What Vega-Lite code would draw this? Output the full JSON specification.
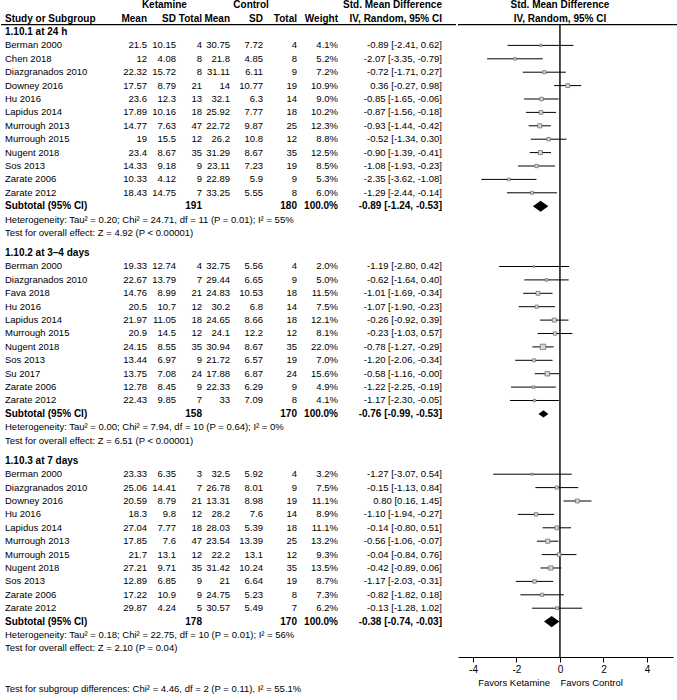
{
  "$schema": "https://vega.github.io/schema/vega-lite/v6.json",
  "padding": 0,
  "spacing": 0,
  "config": {
    "view": {"stroke": null},
    "font": "Liberation Sans",
    "text": {"font": "Liberation Sans", "fontSize": 9.5, "color": "black"},
    "axis": {"labelFont": "Liberation Sans", "titleFont": "Liberation Sans", "labelFontSize": 10, "titleFontSize": 9.5, "titleFontWeight": "normal", "labelColor": "black", "titleColor": "black", "domainColor": "black", "tickColor": "black", "grid": false}
  },
  "datasets": {
    "headers": [
      {"row": -2, "kgroup": "Ketamine", "cgroup": "Control", "ci": "Std. Mean Difference"},
      {"row": -1, "name": "Study or Subgroup", "kmean": "Mean", "ksd": "SD", "kn": "Total", "cmean": "Mean", "csd": "SD", "cn": "Total", "weight": "Weight", "ci": "IV, Random, 95% CI"}
    ],
    "plotheaders": [
      {"row": -2, "label": "Std. Mean Difference"},
      {"row": -1, "label": "IV, Random, 95% CI"}
    ],
    "table": [
      {"row": 0, "kind": "heading", "name": "1.10.1 at 24 h"},
      {"row": 1, "kind": "study", "name": "Berman 2000", "kmean": 21.5, "ksd": 10.15, "kn": 4, "cmean": 30.75, "csd": 7.72, "cn": 4, "weight": 0.041, "ci": "-0.89 [-2.41, 0.62]", "smd": -0.89, "lo": -2.41, "hi": 0.62},
      {"row": 2, "kind": "study", "name": "Chen 2018", "kmean": 12, "ksd": 4.08, "kn": 8, "cmean": 21.8, "csd": 4.85, "cn": 8, "weight": 0.052, "ci": "-2.07 [-3.35, -0.79]", "smd": -2.07, "lo": -3.35, "hi": -0.79},
      {"row": 3, "kind": "study", "name": "Diazgranados 2010", "kmean": 22.32, "ksd": 15.72, "kn": 8, "cmean": 31.11, "csd": 6.11, "cn": 9, "weight": 0.072, "ci": "-0.72 [-1.71, 0.27]", "smd": -0.72, "lo": -1.71, "hi": 0.27},
      {"row": 4, "kind": "study", "name": "Downey 2016", "kmean": 17.57, "ksd": 8.79, "kn": 21, "cmean": 14, "csd": 10.77, "cn": 19, "weight": 0.109, "ci": "0.36 [-0.27, 0.98]", "smd": 0.36, "lo": -0.27, "hi": 0.98},
      {"row": 5, "kind": "study", "name": "Hu 2016", "kmean": 23.6, "ksd": 12.3, "kn": 13, "cmean": 32.1, "csd": 6.3, "cn": 14, "weight": 0.09, "ci": "-0.85 [-1.65, -0.06]", "smd": -0.85, "lo": -1.65, "hi": -0.06},
      {"row": 6, "kind": "study", "name": "Lapidus 2014", "kmean": 17.89, "ksd": 10.16, "kn": 18, "cmean": 25.92, "csd": 7.77, "cn": 18, "weight": 0.102, "ci": "-0.87 [-1.56, -0.18]", "smd": -0.87, "lo": -1.56, "hi": -0.18},
      {"row": 7, "kind": "study", "name": "Murrough 2013", "kmean": 14.77, "ksd": 7.63, "kn": 47, "cmean": 22.72, "csd": 9.87, "cn": 25, "weight": 0.123, "ci": "-0.93 [-1.44, -0.42]", "smd": -0.93, "lo": -1.44, "hi": -0.42},
      {"row": 8, "kind": "study", "name": "Murrough 2015", "kmean": 19, "ksd": 15.5, "kn": 12, "cmean": 26.2, "csd": 10.8, "cn": 12, "weight": 0.088, "ci": "-0.52 [-1.34, 0.30]", "smd": -0.52, "lo": -1.34, "hi": 0.30},
      {"row": 9, "kind": "study", "name": "Nugent 2018", "kmean": 23.4, "ksd": 8.67, "kn": 35, "cmean": 31.29, "csd": 8.67, "cn": 35, "weight": 0.125, "ci": "-0.90 [-1.39, -0.41]", "smd": -0.90, "lo": -1.39, "hi": -0.41},
      {"row": 10, "kind": "study", "name": "Sos 2013", "kmean": 14.33, "ksd": 9.18, "kn": 9, "cmean": 23.11, "csd": 7.23, "cn": 19, "weight": 0.085, "ci": "-1.08 [-1.93, -0.23]", "smd": -1.08, "lo": -1.93, "hi": -0.23},
      {"row": 11, "kind": "study", "name": "Zarate 2006", "kmean": 10.33, "ksd": 4.12, "kn": 9, "cmean": 22.89, "csd": 5.9, "cn": 9, "weight": 0.053, "ci": "-2.35 [-3.62, -1.08]", "smd": -2.35, "lo": -3.62, "hi": -1.08},
      {"row": 12, "kind": "study", "name": "Zarate 2012", "kmean": 18.43, "ksd": 14.75, "kn": 7, "cmean": 33.25, "csd": 5.55, "cn": 8, "weight": 0.06, "ci": "-1.29 [-2.44, -0.14]", "smd": -1.29, "lo": -2.44, "hi": -0.14},
      {"row": 13, "kind": "subtotal", "name": "Subtotal (95% CI)", "kn": 191, "cn": 180, "weight": 1, "ci": "-0.89 [-1.24, -0.53]", "smd": -0.89, "lo": -1.24, "hi": -0.53},
      {"row": 14, "kind": "note", "name": "Heterogeneity: Tau² = 0.20; Chi² = 24.71, df = 11 (P = 0.01); I² = 55%"},
      {"row": 15, "kind": "note", "name": "Test for overall effect: Z = 4.92 (P < 0.00001)"},
      {"row": 16.5, "kind": "heading", "name": "1.10.2 at 3–4 days"},
      {"row": 17.5, "kind": "study", "name": "Berman 2000", "kmean": 19.33, "ksd": 12.74, "kn": 4, "cmean": 32.75, "csd": 5.56, "cn": 4, "weight": 0.02, "ci": "-1.19 [-2.80, 0.42]", "smd": -1.19, "lo": -2.80, "hi": 0.42},
      {"row": 18.5, "kind": "study", "name": "Diazgranados 2010", "kmean": 22.67, "ksd": 13.79, "kn": 7, "cmean": 29.44, "csd": 6.65, "cn": 9, "weight": 0.05, "ci": "-0.62 [-1.64, 0.40]", "smd": -0.62, "lo": -1.64, "hi": 0.40},
      {"row": 19.5, "kind": "study", "name": "Fava 2018", "kmean": 14.76, "ksd": 8.99, "kn": 21, "cmean": 24.83, "csd": 10.53, "cn": 18, "weight": 0.115, "ci": "-1.01 [-1.69, -0.34]", "smd": -1.01, "lo": -1.69, "hi": -0.34},
      {"row": 20.5, "kind": "study", "name": "Hu 2016", "kmean": 20.5, "ksd": 10.7, "kn": 12, "cmean": 30.2, "csd": 6.8, "cn": 14, "weight": 0.075, "ci": "-1.07 [-1.90, -0.23]", "smd": -1.07, "lo": -1.90, "hi": -0.23},
      {"row": 21.5, "kind": "study", "name": "Lapidus 2014", "kmean": 21.97, "ksd": 11.05, "kn": 18, "cmean": 24.65, "csd": 8.66, "cn": 18, "weight": 0.121, "ci": "-0.26 [-0.92, 0.39]", "smd": -0.26, "lo": -0.92, "hi": 0.39},
      {"row": 22.5, "kind": "study", "name": "Murrough 2015", "kmean": 20.9, "ksd": 14.5, "kn": 12, "cmean": 24.1, "csd": 12.2, "cn": 12, "weight": 0.081, "ci": "-0.23 [-1.03, 0.57]", "smd": -0.23, "lo": -1.03, "hi": 0.57},
      {"row": 23.5, "kind": "study", "name": "Nugent 2018", "kmean": 24.15, "ksd": 8.55, "kn": 35, "cmean": 30.94, "csd": 8.67, "cn": 35, "weight": 0.22, "ci": "-0.78 [-1.27, -0.29]", "smd": -0.78, "lo": -1.27, "hi": -0.29},
      {"row": 24.5, "kind": "study", "name": "Sos 2013", "kmean": 13.44, "ksd": 6.97, "kn": 9, "cmean": 21.72, "csd": 6.57, "cn": 19, "weight": 0.07, "ci": "-1.20 [-2.06, -0.34]", "smd": -1.20, "lo": -2.06, "hi": -0.34},
      {"row": 25.5, "kind": "study", "name": "Su 2017", "kmean": 13.75, "ksd": 7.08, "kn": 24, "cmean": 17.88, "csd": 6.87, "cn": 24, "weight": 0.156, "ci": "-0.58 [-1.16, -0.00]", "smd": -0.58, "lo": -1.16, "hi": -0.00},
      {"row": 26.5, "kind": "study", "name": "Zarate 2006", "kmean": 12.78, "ksd": 8.45, "kn": 9, "cmean": 22.33, "csd": 6.29, "cn": 9, "weight": 0.049, "ci": "-1.22 [-2.25, -0.19]", "smd": -1.22, "lo": -2.25, "hi": -0.19},
      {"row": 27.5, "kind": "study", "name": "Zarate 2012", "kmean": 22.43, "ksd": 9.85, "kn": 7, "cmean": 33, "csd": 7.09, "cn": 8, "weight": 0.041, "ci": "-1.17 [-2.30, -0.05]", "smd": -1.17, "lo": -2.30, "hi": -0.05},
      {"row": 28.5, "kind": "subtotal", "name": "Subtotal (95% CI)", "kn": 158, "cn": 170, "weight": 1, "ci": "-0.76 [-0.99, -0.53]", "smd": -0.76, "lo": -0.99, "hi": -0.53},
      {"row": 29.5, "kind": "note", "name": "Heterogeneity: Tau² = 0.00; Chi² = 7.94, df = 10 (P = 0.64); I² = 0%"},
      {"row": 30.5, "kind": "note", "name": "Test for overall effect: Z = 6.51 (P < 0.00001)"},
      {"row": 32, "kind": "heading", "name": "1.10.3 at 7 days"},
      {"row": 33, "kind": "study", "name": "Berman 2000", "kmean": 23.33, "ksd": 6.35, "kn": 3, "cmean": 32.5, "csd": 5.92, "cn": 4, "weight": 0.032, "ci": "-1.27 [-3.07, 0.54]", "smd": -1.27, "lo": -3.07, "hi": 0.54},
      {"row": 34, "kind": "study", "name": "Diazgranados 2010", "kmean": 25.06, "ksd": 14.41, "kn": 7, "cmean": 26.78, "csd": 8.01, "cn": 9, "weight": 0.075, "ci": "-0.15 [-1.13, 0.84]", "smd": -0.15, "lo": -1.13, "hi": 0.84},
      {"row": 35, "kind": "study", "name": "Downey 2016", "kmean": 20.59, "ksd": 8.79, "kn": 21, "cmean": 13.31, "csd": 8.98, "cn": 19, "weight": 0.111, "ci": "0.80 [0.16, 1.45]", "smd": 0.80, "lo": 0.16, "hi": 1.45},
      {"row": 36, "kind": "study", "name": "Hu 2016", "kmean": 18.3, "ksd": 9.8, "kn": 12, "cmean": 28.2, "csd": 7.6, "cn": 14, "weight": 0.089, "ci": "-1.10 [-1.94, -0.27]", "smd": -1.10, "lo": -1.94, "hi": -0.27},
      {"row": 37, "kind": "study", "name": "Lapidus 2014", "kmean": 27.04, "ksd": 7.77, "kn": 18, "cmean": 28.03, "csd": 5.39, "cn": 18, "weight": 0.111, "ci": "-0.14 [-0.80, 0.51]", "smd": -0.14, "lo": -0.80, "hi": 0.51},
      {"row": 38, "kind": "study", "name": "Murrough 2013", "kmean": 17.85, "ksd": 7.6, "kn": 47, "cmean": 23.54, "csd": 13.39, "cn": 25, "weight": 0.132, "ci": "-0.56 [-1.06, -0.07]", "smd": -0.56, "lo": -1.06, "hi": -0.07},
      {"row": 39, "kind": "study", "name": "Murrough 2015", "kmean": 21.7, "ksd": 13.1, "kn": 12, "cmean": 22.2, "csd": 13.1, "cn": 12, "weight": 0.093, "ci": "-0.04 [-0.84, 0.76]", "smd": -0.04, "lo": -0.84, "hi": 0.76},
      {"row": 40, "kind": "study", "name": "Nugent 2018", "kmean": 27.21, "ksd": 9.71, "kn": 35, "cmean": 31.42, "csd": 10.24, "cn": 35, "weight": 0.135, "ci": "-0.42 [-0.89, 0.06]", "smd": -0.42, "lo": -0.89, "hi": 0.06},
      {"row": 41, "kind": "study", "name": "Sos 2013", "kmean": 12.89, "ksd": 6.85, "kn": 9, "cmean": 21, "csd": 6.64, "cn": 19, "weight": 0.087, "ci": "-1.17 [-2.03, -0.31]", "smd": -1.17, "lo": -2.03, "hi": -0.31},
      {"row": 42, "kind": "study", "name": "Zarate 2006", "kmean": 17.22, "ksd": 10.9, "kn": 9, "cmean": 24.75, "csd": 5.23, "cn": 8, "weight": 0.073, "ci": "-0.82 [-1.82, 0.18]", "smd": -0.82, "lo": -1.82, "hi": 0.18},
      {"row": 43, "kind": "study", "name": "Zarate 2012", "kmean": 29.87, "ksd": 4.24, "kn": 5, "cmean": 30.57, "csd": 5.49, "cn": 7, "weight": 0.062, "ci": "-0.13 [-1.28, 1.02]", "smd": -0.13, "lo": -1.28, "hi": 1.02},
      {"row": 44, "kind": "subtotal", "name": "Subtotal (95% CI)", "kn": 178, "cn": 170, "weight": 1, "ci": "-0.38 [-0.74, -0.03]", "smd": -0.38, "lo": -0.74, "hi": -0.03},
      {"row": 45, "kind": "note", "name": "Heterogeneity: Tau² = 0.18; Chi² = 22.75, df = 10 (P = 0.01); I² = 56%"},
      {"row": 46, "kind": "note", "name": "Test for overall effect: Z = 2.10 (P = 0.04)"},
      {"row": 49, "kind": "note", "name": "Test for subgroup differences: Chi² = 4.46, df = 2 (P = 0.11), I² = 55.1%"}
    ]
  },
  "hconcat": [
    {
      "width": 455,
      "height": 700,
      "layer": [
        {"data": {"name": "table"}, "transform": [{"filter": "datum.kind === 'study' || datum.kind === 'note'"}],
         "mark": {"type": "text", "align": "left"},
         "encoding": {"x": {"datum": 0, "type": "quantitative", "scale": {"domain": [-1,0,1,2,3,4,5,6,7,8,9], "range": [0,4,146,175,201,229,262,296,337,441,455], "zero": false, "nice": false}, "axis": null},
                      "y": {"field": "row", "type": "quantitative", "scale": {"domain": [-2.388, 49.851], "reverse": true, "zero": false, "nice": false}, "axis": null},
                      "text": {"field": "name", "type": "nominal"}}},
        {"data": {"name": "table"}, "transform": [{"filter": "datum.kind === 'heading' || datum.kind === 'subtotal'"}],
         "mark": {"type": "text", "align": "left", "fontWeight": "bold", "fontSize": 10},
         "encoding": {"x": {"datum": 0, "type": "quantitative", "scale": {"domain": [-1,0,1,2,3,4,5,6,7,8,9], "range": [0,4,146,175,201,229,262,296,337,441,455], "zero": false, "nice": false}, "axis": null},
                      "y": {"field": "row", "type": "quantitative", "scale": {"domain": [-2.388, 49.851], "reverse": true, "zero": false, "nice": false}, "axis": null},
                      "text": {"field": "name", "type": "nominal"}}},
        {"data": {"name": "headers"}, "transform": [{"filter": "isValid(datum.name)"}],
         "mark": {"type": "text", "align": "left", "fontWeight": "bold", "fontSize": 10},
         "encoding": {"x": {"datum": 0, "type": "quantitative", "scale": {"domain": [-1,0,1,2,3,4,5,6,7,8,9], "range": [0,4,146,175,201,229,262,296,337,441,455], "zero": false, "nice": false}, "axis": null},
                      "y": {"field": "row", "type": "quantitative", "scale": {"domain": [-2.388, 49.851], "reverse": true, "zero": false, "nice": false}, "axis": null},
                      "text": {"field": "name", "type": "nominal"}}},
        {"data": {"name": "table"}, "transform": [{"filter": "datum.kind === 'study'"}],
         "mark": {"type": "text", "align": "right"},
         "encoding": {"x": {"datum": 1, "type": "quantitative", "scale": {"domain": [-1,0,1,2,3,4,5,6,7,8,9], "range": [0,4,146,175,201,229,262,296,337,441,455], "zero": false, "nice": false}, "axis": null},
                      "y": {"field": "row", "type": "quantitative", "scale": {"domain": [-2.388, 49.851], "reverse": true, "zero": false, "nice": false}, "axis": null},
                      "text": {"field": "kmean", "type": "nominal"}}},
        {"data": {"name": "headers"}, "transform": [{"filter": "isValid(datum.kmean)"}],
         "mark": {"type": "text", "align": "right", "fontWeight": "bold", "fontSize": 10},
         "encoding": {"x": {"datum": 1, "type": "quantitative", "scale": {"domain": [-1,0,1,2,3,4,5,6,7,8,9], "range": [0,4,146,175,201,229,262,296,337,441,455], "zero": false, "nice": false}, "axis": null},
                      "y": {"field": "row", "type": "quantitative", "scale": {"domain": [-2.388, 49.851], "reverse": true, "zero": false, "nice": false}, "axis": null},
                      "text": {"field": "kmean", "type": "nominal"}}},
        {"data": {"name": "headers"}, "transform": [{"filter": "isValid(datum.kgroup)"}],
         "mark": {"type": "text", "align": "center", "fontWeight": "bold", "fontSize": 10},
         "encoding": {"x": {"datum": 1.6, "type": "quantitative", "scale": {"domain": [-1,0,1,2,3,4,5,6,7,8,9], "range": [0,4,146,175,201,229,262,296,337,441,455], "zero": false, "nice": false}, "axis": null},
                      "y": {"field": "row", "type": "quantitative", "scale": {"domain": [-2.388, 49.851], "reverse": true, "zero": false, "nice": false}, "axis": null},
                      "text": {"field": "kgroup", "type": "nominal"}}},
        {"data": {"name": "table"}, "transform": [{"filter": "datum.kind === 'study'"}],
         "mark": {"type": "text", "align": "right"},
         "encoding": {"x": {"datum": 2, "type": "quantitative", "scale": {"domain": [-1,0,1,2,3,4,5,6,7,8,9], "range": [0,4,146,175,201,229,262,296,337,441,455], "zero": false, "nice": false}, "axis": null},
                      "y": {"field": "row", "type": "quantitative", "scale": {"domain": [-2.388, 49.851], "reverse": true, "zero": false, "nice": false}, "axis": null},
                      "text": {"field": "ksd", "type": "nominal"}}},
        {"data": {"name": "headers"}, "transform": [{"filter": "isValid(datum.ksd)"}],
         "mark": {"type": "text", "align": "right", "fontWeight": "bold", "fontSize": 10},
         "encoding": {"x": {"datum": 2, "type": "quantitative", "scale": {"domain": [-1,0,1,2,3,4,5,6,7,8,9], "range": [0,4,146,175,201,229,262,296,337,441,455], "zero": false, "nice": false}, "axis": null},
                      "y": {"field": "row", "type": "quantitative", "scale": {"domain": [-2.388, 49.851], "reverse": true, "zero": false, "nice": false}, "axis": null},
                      "text": {"field": "ksd", "type": "nominal"}}},
        {"data": {"name": "table"}, "transform": [{"filter": "datum.kind === 'study'"}],
         "mark": {"type": "text", "align": "right"},
         "encoding": {"x": {"datum": 3, "type": "quantitative", "scale": {"domain": [-1,0,1,2,3,4,5,6,7,8,9], "range": [0,4,146,175,201,229,262,296,337,441,455], "zero": false, "nice": false}, "axis": null},
                      "y": {"field": "row", "type": "quantitative", "scale": {"domain": [-2.388, 49.851], "reverse": true, "zero": false, "nice": false}, "axis": null},
                      "text": {"field": "kn", "type": "nominal"}}},
        {"data": {"name": "table"}, "transform": [{"filter": "datum.kind === 'subtotal'"}],
         "mark": {"type": "text", "align": "right", "fontWeight": "bold", "fontSize": 10},
         "encoding": {"x": {"datum": 3, "type": "quantitative", "scale": {"domain": [-1,0,1,2,3,4,5,6,7,8,9], "range": [0,4,146,175,201,229,262,296,337,441,455], "zero": false, "nice": false}, "axis": null},
                      "y": {"field": "row", "type": "quantitative", "scale": {"domain": [-2.388, 49.851], "reverse": true, "zero": false, "nice": false}, "axis": null},
                      "text": {"field": "kn", "type": "nominal"}}},
        {"data": {"name": "headers"}, "transform": [{"filter": "isValid(datum.kn)"}],
         "mark": {"type": "text", "align": "right", "fontWeight": "bold", "fontSize": 10},
         "encoding": {"x": {"datum": 3, "type": "quantitative", "scale": {"domain": [-1,0,1,2,3,4,5,6,7,8,9], "range": [0,4,146,175,201,229,262,296,337,441,455], "zero": false, "nice": false}, "axis": null},
                      "y": {"field": "row", "type": "quantitative", "scale": {"domain": [-2.388, 49.851], "reverse": true, "zero": false, "nice": false}, "axis": null},
                      "text": {"field": "kn", "type": "nominal"}}},
        {"data": {"name": "table"}, "transform": [{"filter": "datum.kind === 'study'"}],
         "mark": {"type": "text", "align": "right"},
         "encoding": {"x": {"datum": 4, "type": "quantitative", "scale": {"domain": [-1,0,1,2,3,4,5,6,7,8,9], "range": [0,4,146,175,201,229,262,296,337,441,455], "zero": false, "nice": false}, "axis": null},
                      "y": {"field": "row", "type": "quantitative", "scale": {"domain": [-2.388, 49.851], "reverse": true, "zero": false, "nice": false}, "axis": null},
                      "text": {"field": "cmean", "type": "nominal"}}},
        {"data": {"name": "headers"}, "transform": [{"filter": "isValid(datum.cmean)"}],
         "mark": {"type": "text", "align": "right", "fontWeight": "bold", "fontSize": 10},
         "encoding": {"x": {"datum": 4, "type": "quantitative", "scale": {"domain": [-1,0,1,2,3,4,5,6,7,8,9], "range": [0,4,146,175,201,229,262,296,337,441,455], "zero": false, "nice": false}, "axis": null},
                      "y": {"field": "row", "type": "quantitative", "scale": {"domain": [-2.388, 49.851], "reverse": true, "zero": false, "nice": false}, "axis": null},
                      "text": {"field": "cmean", "type": "nominal"}}},
        {"data": {"name": "headers"}, "transform": [{"filter": "isValid(datum.cgroup)"}],
         "mark": {"type": "text", "align": "center", "fontWeight": "bold", "fontSize": 10},
         "encoding": {"x": {"datum": 4.64, "type": "quantitative", "scale": {"domain": [-1,0,1,2,3,4,5,6,7,8,9], "range": [0,4,146,175,201,229,262,296,337,441,455], "zero": false, "nice": false}, "axis": null},
                      "y": {"field": "row", "type": "quantitative", "scale": {"domain": [-2.388, 49.851], "reverse": true, "zero": false, "nice": false}, "axis": null},
                      "text": {"field": "cgroup", "type": "nominal"}}},
        {"data": {"name": "table"}, "transform": [{"filter": "datum.kind === 'study'"}],
         "mark": {"type": "text", "align": "right"},
         "encoding": {"x": {"datum": 5, "type": "quantitative", "scale": {"domain": [-1,0,1,2,3,4,5,6,7,8,9], "range": [0,4,146,175,201,229,262,296,337,441,455], "zero": false, "nice": false}, "axis": null},
                      "y": {"field": "row", "type": "quantitative", "scale": {"domain": [-2.388, 49.851], "reverse": true, "zero": false, "nice": false}, "axis": null},
                      "text": {"field": "csd", "type": "nominal"}}},
        {"data": {"name": "headers"}, "transform": [{"filter": "isValid(datum.csd)"}],
         "mark": {"type": "text", "align": "right", "fontWeight": "bold", "fontSize": 10},
         "encoding": {"x": {"datum": 5, "type": "quantitative", "scale": {"domain": [-1,0,1,2,3,4,5,6,7,8,9], "range": [0,4,146,175,201,229,262,296,337,441,455], "zero": false, "nice": false}, "axis": null},
                      "y": {"field": "row", "type": "quantitative", "scale": {"domain": [-2.388, 49.851], "reverse": true, "zero": false, "nice": false}, "axis": null},
                      "text": {"field": "csd", "type": "nominal"}}},
        {"data": {"name": "table"}, "transform": [{"filter": "datum.kind === 'study'"}],
         "mark": {"type": "text", "align": "right"},
         "encoding": {"x": {"datum": 6, "type": "quantitative", "scale": {"domain": [-1,0,1,2,3,4,5,6,7,8,9], "range": [0,4,146,175,201,229,262,296,337,441,455], "zero": false, "nice": false}, "axis": null},
                      "y": {"field": "row", "type": "quantitative", "scale": {"domain": [-2.388, 49.851], "reverse": true, "zero": false, "nice": false}, "axis": null},
                      "text": {"field": "cn", "type": "nominal"}}},
        {"data": {"name": "table"}, "transform": [{"filter": "datum.kind === 'subtotal'"}],
         "mark": {"type": "text", "align": "right", "fontWeight": "bold", "fontSize": 10},
         "encoding": {"x": {"datum": 6, "type": "quantitative", "scale": {"domain": [-1,0,1,2,3,4,5,6,7,8,9], "range": [0,4,146,175,201,229,262,296,337,441,455], "zero": false, "nice": false}, "axis": null},
                      "y": {"field": "row", "type": "quantitative", "scale": {"domain": [-2.388, 49.851], "reverse": true, "zero": false, "nice": false}, "axis": null},
                      "text": {"field": "cn", "type": "nominal"}}},
        {"data": {"name": "headers"}, "transform": [{"filter": "isValid(datum.cn)"}],
         "mark": {"type": "text", "align": "right", "fontWeight": "bold", "fontSize": 10},
         "encoding": {"x": {"datum": 6, "type": "quantitative", "scale": {"domain": [-1,0,1,2,3,4,5,6,7,8,9], "range": [0,4,146,175,201,229,262,296,337,441,455], "zero": false, "nice": false}, "axis": null},
                      "y": {"field": "row", "type": "quantitative", "scale": {"domain": [-2.388, 49.851], "reverse": true, "zero": false, "nice": false}, "axis": null},
                      "text": {"field": "cn", "type": "nominal"}}},
        {"data": {"name": "table"}, "transform": [{"filter": "datum.kind === 'study'"}],
         "mark": {"type": "text", "align": "right"},
         "encoding": {"x": {"datum": 7, "type": "quantitative", "scale": {"domain": [-1,0,1,2,3,4,5,6,7,8,9], "range": [0,4,146,175,201,229,262,296,337,441,455], "zero": false, "nice": false}, "axis": null},
                      "y": {"field": "row", "type": "quantitative", "scale": {"domain": [-2.388, 49.851], "reverse": true, "zero": false, "nice": false}, "axis": null},
                      "text": {"field": "weight", "type": "quantitative", "format": ".1%"}}},
        {"data": {"name": "table"}, "transform": [{"filter": "datum.kind === 'subtotal'"}],
         "mark": {"type": "text", "align": "right", "fontWeight": "bold", "fontSize": 10},
         "encoding": {"x": {"datum": 7, "type": "quantitative", "scale": {"domain": [-1,0,1,2,3,4,5,6,7,8,9], "range": [0,4,146,175,201,229,262,296,337,441,455], "zero": false, "nice": false}, "axis": null},
                      "y": {"field": "row", "type": "quantitative", "scale": {"domain": [-2.388, 49.851], "reverse": true, "zero": false, "nice": false}, "axis": null},
                      "text": {"field": "weight", "type": "quantitative", "format": ".1%"}}},
        {"data": {"name": "headers"}, "transform": [{"filter": "isValid(datum.weight)"}],
         "mark": {"type": "text", "align": "right", "fontWeight": "bold", "fontSize": 10},
         "encoding": {"x": {"datum": 7, "type": "quantitative", "scale": {"domain": [-1,0,1,2,3,4,5,6,7,8,9], "range": [0,4,146,175,201,229,262,296,337,441,455], "zero": false, "nice": false}, "axis": null},
                      "y": {"field": "row", "type": "quantitative", "scale": {"domain": [-2.388, 49.851], "reverse": true, "zero": false, "nice": false}, "axis": null},
                      "text": {"field": "weight", "type": "nominal"}}},
        {"data": {"name": "table"}, "transform": [{"filter": "datum.kind === 'study'"}],
         "mark": {"type": "text", "align": "right"},
         "encoding": {"x": {"datum": 8, "type": "quantitative", "scale": {"domain": [-1,0,1,2,3,4,5,6,7,8,9], "range": [0,4,146,175,201,229,262,296,337,441,455], "zero": false, "nice": false}, "axis": null},
                      "y": {"field": "row", "type": "quantitative", "scale": {"domain": [-2.388, 49.851], "reverse": true, "zero": false, "nice": false}, "axis": null},
                      "text": {"field": "ci", "type": "nominal"}}},
        {"data": {"name": "table"}, "transform": [{"filter": "datum.kind === 'subtotal'"}],
         "mark": {"type": "text", "align": "right", "fontWeight": "bold", "fontSize": 10},
         "encoding": {"x": {"datum": 8, "type": "quantitative", "scale": {"domain": [-1,0,1,2,3,4,5,6,7,8,9], "range": [0,4,146,175,201,229,262,296,337,441,455], "zero": false, "nice": false}, "axis": null},
                      "y": {"field": "row", "type": "quantitative", "scale": {"domain": [-2.388, 49.851], "reverse": true, "zero": false, "nice": false}, "axis": null},
                      "text": {"field": "ci", "type": "nominal"}}},
        {"data": {"name": "headers"}, "transform": [{"filter": "isValid(datum.ci)"}],
         "mark": {"type": "text", "align": "right", "fontWeight": "bold", "fontSize": 10},
         "encoding": {"x": {"datum": 8, "type": "quantitative", "scale": {"domain": [-1,0,1,2,3,4,5,6,7,8,9], "range": [0,4,146,175,201,229,262,296,337,441,455], "zero": false, "nice": false}, "axis": null},
                      "y": {"field": "row", "type": "quantitative", "scale": {"domain": [-2.388, 49.851], "reverse": true, "zero": false, "nice": false}, "axis": null},
                      "text": {"field": "ci", "type": "nominal"}}},
        {"data": {"values": [{}]},
         "mark": {"type": "rule", "color": "black", "strokeWidth": 1.2},
         "encoding": {"x": {"datum": -1, "type": "quantitative", "scale": {"domain": [-1,0,1,2,3,4,5,6,7,8,9], "range": [0,4,146,175,201,229,262,296,337,441,455], "zero": false, "nice": false}, "axis": null},
                      "x2": {"datum": 9},
                      "y": {"datum": -0.55, "type": "quantitative", "scale": {"domain": [-2.388, 49.851], "reverse": true, "zero": false, "nice": false}, "axis": null}}}
      ]
    },
    {
      "width": 215,
      "height": 657,
      "resolve": {"scale": {"size": "independent"}, "legend": {"size": "independent"}},
      "layer": [
        {
          "data": {"name": "plotheaders"},
          "mark": {"type": "text", "align": "center", "fontWeight": "bold", "fontSize": 10},
          "encoding": {
            "x": {"datum": 0, "type": "quantitative", "scale": {"domain": [-4.69, 5.2], "zero": false, "nice": false}, "axis": {"values": [-4, -2, 0, 2, 4], "labelExpr": "'' + datum.value", "title": "Favors Ketamine\u00a0\u00a0\u00a0\u00a0Favors Control", "titleX": 92, "titlePadding": 3, "labelPadding": 2, "tickSize": 5}},
            "y": {"field": "row", "type": "quantitative", "scale": {"domain": [-2.388, 46.642], "reverse": true, "zero": false, "nice": false}, "axis": null},
            "text": {"field": "label", "type": "nominal"}
          }
        },
        {
          "data": {"values": [{}]},
          "mark": {"type": "rule", "color": "black", "strokeWidth": 1.2},
          "encoding": {
            "x": {"datum": -4.69, "type": "quantitative", "scale": {"domain": [-4.69, 5.2], "zero": false, "nice": false}, "axis": {"values": [-4, -2, 0, 2, 4], "labelExpr": "'' + datum.value", "title": "Favors Ketamine\u00a0\u00a0\u00a0\u00a0Favors Control", "titleX": 92, "titlePadding": 3, "labelPadding": 2, "tickSize": 5}},
            "x2": {"datum": 5.52},
            "y": {"datum": -0.55, "type": "quantitative", "scale": {"domain": [-2.388, 46.642], "reverse": true, "zero": false, "nice": false}, "axis": null}
          }
        },
        {
          "data": {"values": [{}]},
          "mark": {"type": "rule", "color": "black", "strokeWidth": 1.4},
          "encoding": {
            "x": {"datum": 0, "type": "quantitative", "scale": {"domain": [-4.69, 5.2], "zero": false, "nice": false}, "axis": {"values": [-4, -2, 0, 2, 4], "labelExpr": "'' + datum.value", "title": "Favors Ketamine\u00a0\u00a0\u00a0\u00a0Favors Control", "titleX": 92, "titlePadding": 3, "labelPadding": 2, "tickSize": 5}},
            "y": {"datum": -0.55, "type": "quantitative", "scale": {"domain": [-2.388, 46.642], "reverse": true, "zero": false, "nice": false}, "axis": null},
            "y2": {"datum": 46.642}
          }
        },
        {
          "data": {"name": "table"},
          "transform": [{"filter": "datum.kind === 'study'"}],
          "mark": {"type": "rule", "color": "black", "strokeWidth": 1},
          "encoding": {
            "x": {"field": "lo", "type": "quantitative", "scale": {"domain": [-4.69, 5.2], "zero": false, "nice": false}, "axis": {"values": [-4, -2, 0, 2, 4], "labelExpr": "'' + datum.value", "title": "Favors Ketamine\u00a0\u00a0\u00a0\u00a0Favors Control", "titleX": 92, "titlePadding": 3, "labelPadding": 2, "tickSize": 5}},
            "x2": {"field": "hi"},
            "y": {"field": "row", "type": "quantitative", "scale": {"domain": [-2.388, 46.642], "reverse": true, "zero": false, "nice": false}, "axis": null}
          }
        },
        {
          "data": {"name": "table"},
          "transform": [{"filter": "datum.kind === 'study'"}],
          "mark": {"type": "point", "shape": "square", "filled": true, "fill": "#d6d6d6", "stroke": "#666666", "strokeWidth": 0.7, "opacity": 1},
          "encoding": {
            "x": {"field": "smd", "type": "quantitative", "scale": {"domain": [-4.69, 5.2], "zero": false, "nice": false}, "axis": {"values": [-4, -2, 0, 2, 4], "labelExpr": "'' + datum.value", "title": "Favors Ketamine\u00a0\u00a0\u00a0\u00a0Favors Control", "titleX": 92, "titlePadding": 3, "labelPadding": 2, "tickSize": 5}},
            "y": {"field": "row", "type": "quantitative", "scale": {"domain": [-2.388, 46.642], "reverse": true, "zero": false, "nice": false}, "axis": null},
            "size": {"field": "weight", "type": "quantitative", "scale": {"domain": [0, 0.22], "range": [0, 30], "zero": true}, "legend": null}
          }
        },
        {
          "data": {"name": "table"},
          "transform": [
            {"filter": "datum.kind === 'subtotal'"},
            {"fold": ["lo", "hi"], "as": ["end", "xv"]},
            {"aggregate": [{"op": "stdevp", "field": "xv", "as": "halfw"}, {"op": "max", "field": "smd", "as": "smd"}], "groupby": ["row"]}
          ],
          "mark": {"type": "point", "shape": "M-1,0L0,-0.72L1,0L0,0.72Z", "filled": true, "color": "black", "opacity": 1, "strokeWidth": 0},
          "encoding": {
            "x": {"field": "smd", "type": "quantitative", "scale": {"domain": [-4.69, 5.2], "zero": false, "nice": false}, "axis": {"values": [-4, -2, 0, 2, 4], "labelExpr": "'' + datum.value", "title": "Favors Ketamine\u00a0\u00a0\u00a0\u00a0Favors Control", "titleX": 92, "titlePadding": 3, "labelPadding": 2, "tickSize": 5}},
            "y": {"field": "row", "type": "quantitative", "scale": {"domain": [-2.388, 46.642], "reverse": true, "zero": false, "nice": false}, "axis": null},
            "size": {"field": "halfw", "type": "quantitative", "scale": {"type": "pow", "exponent": 2, "domain": [0, 1], "range": [0, 1890], "zero": true}, "legend": null}
          }
        }
      ]
    }
  ]
}
